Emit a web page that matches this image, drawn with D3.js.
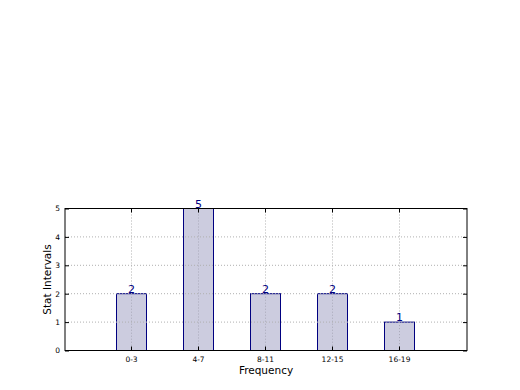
<!DOCTYPE html>
<html>
<head>
<meta charset="utf-8">
<script src="https://cdn.jsdelivr.net/npm/d3@7"></script>
<style>
body { margin: 0; background: #fff; }
text { font-family: "DejaVu Sans", sans-serif; }
</style>
</head>
<body>
<script>
let categories = ["0-3", "4-7", "8-11", "12-15", "16-19"];
let counts = [2, 5, 2, 2, 1];
let yTicks = [0, 1, 2, 3, 4, 5];

let m = { top: 208.5, left: 65, bottom: 39.5, right: 53 },
    W = 520, H = 390,
    w = W - m.left - m.right,
    h = H - m.top - m.bottom;

let svg = d3.select("body").append("svg")
    .attr("width", W)
    .attr("height", H);

let g = svg.append("g")
    .attr("transform", "translate(" + m.left + "," + m.top + ")");

let x = d3.scaleLinear().domain([0, 6]).range([0, w]);
let y = d3.scaleLinear().domain([0, 5]).range([h, 0]);
let barW = Math.round(x(0.45) - x(0));
let cx = i => Math.round(x(i + 1)) - 0.5;

// grid
g.selectAll(".gx").data(categories).enter().append("line")
    .attr("x1", (d, i) => cx(i)).attr("x2", (d, i) => cx(i))
    .attr("y1", 0).attr("y2", h)
    .attr("stroke", "#b0b0b0").attr("stroke-dasharray", "1,2");

// bars
g.selectAll(".bar").data(counts).enter().append("rect")
    .attr("x", (d, i) => cx(i) - barW / 2)
    .attr("y", d => y(d))
    .attr("width", barW)
    .attr("height", d => h - y(d))
    .attr("fill", "#ccccdf")
    .attr("stroke", "#000080")
    .attr("stroke-width", 1);

// grid over bars (matplotlib draws grid above)
g.selectAll(".gx2").data(categories).enter().append("line")
    .attr("x1", (d, i) => cx(i)).attr("x2", (d, i) => cx(i))
    .attr("y1", (d, i) => y(counts[i])).attr("y2", h)
    .attr("stroke", "#a8a8b8").attr("stroke-dasharray", "1,2");
g.selectAll(".gy2").data(yTicks).enter().append("line")
    .attr("x1", 0).attr("x2", w)
    .attr("y1", d => y(d)).attr("y2", d => y(d))
    .attr("stroke", "#b0b0b0").attr("stroke-dasharray", "1,2");

// value labels
g.selectAll(".val").data(counts).enter().append("text")
    .attr("x", (d, i) => cx(i))
    .attr("y", d => y(d) - 1)
    .attr("text-anchor", "middle")
    .attr("font-size", 11)
    .attr("fill", "#000080")
    .text(d => d);

// frame
g.append("rect")
    .attr("width", w).attr("height", h)
    .attr("fill", "none").attr("stroke", "#000").attr("stroke-width", 1);

// axes (ticks inward)
let xt = [1, 2, 3, 4, 5];
g.append("g")
    .attr("transform", "translate(-1," + h + ")")
    .call(d3.axisBottom(x).tickValues(xt)
        .tickFormat((d) => categories[d - 1]).tickSizeInner(-4).tickSizeOuter(0).tickPadding(6));
g.append("g")
    .call(d3.axisLeft(y).tickValues(yTicks).tickFormat(d3.format("d"))
        .tickSizeInner(-4).tickSizeOuter(0).tickPadding(5));
g.append("g").attr("transform", "translate(" + w + ",0)")
    .call(d3.axisRight(y).tickValues(yTicks).tickFormat("").tickSizeInner(-4).tickSizeOuter(0));
g.append("g").attr("transform", "translate(-1,0)")
    .call(d3.axisTop(x).tickValues(xt).tickFormat("").tickSizeInner(-4).tickSizeOuter(0));
g.selectAll(".domain").remove();
g.selectAll(".tick text").attr("font-size", 7.5).attr("fill", "#000")
    .attr("font-family", "DejaVu Sans, sans-serif");

// axis titles
svg.append("text")
    .attr("x", m.left + w / 2).attr("y", 374)
    .attr("text-anchor", "middle").attr("font-size", 10.5)
    .text("Frequency");
svg.append("text")
    .attr("transform", "translate(51," + (m.top + h / 2) + ") rotate(-90)")
    .attr("text-anchor", "middle").attr("font-size", 10.5)
    .text("Stat Intervals");
</script>
</body>
</html>
